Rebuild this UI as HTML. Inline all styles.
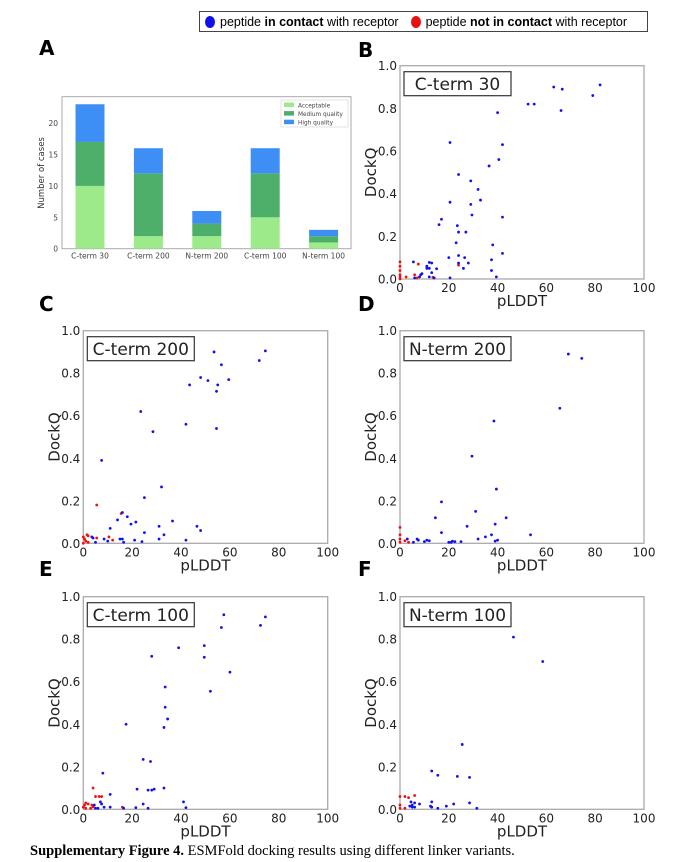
<!DOCTYPE html>
<html><head><meta charset="utf-8">
<style>
body{margin:0;background:#fff;width:688px;height:862px;overflow:hidden;position:relative;font-family:"DejaVu Sans","Liberation Sans",sans-serif}
.lt{position:absolute;font-family:"DejaVu Sans",sans-serif;font-weight:bold;font-size:20px}
#cap{position:absolute;left:30px;top:843px;font-family:"Liberation Serif",serif;font-size:14.5px;white-space:nowrap}
#legend{position:absolute;left:199px;top:11px;width:449px;height:21px;border:1.5px solid #444;font-size:12.5px;font-family:"Liberation Sans",sans-serif;display:flex;align-items:center;box-sizing:border-box;padding-left:5px;white-space:nowrap}
.dot{display:inline-block;width:10px;height:12px;border-radius:50%;margin-right:5px;vertical-align:middle}
</style></head><body>
<div id="legend">
<span><span class="dot" style="background:#1010e8"></span>peptide <b>in contact</b> with receptor</span>
<span style="margin-left:12px"><span class="dot" style="background:#e81010"></span>peptide <b>not in contact</b> with receptor</span>
</div>
<div class="lt" style="left:39px;top:36px">A</div>
<div class="lt" style="left:358px;top:38px">B</div>
<div class="lt" style="left:39px;top:292px">C</div>
<div class="lt" style="left:358px;top:292px">D</div>
<div class="lt" style="left:39px;top:557px">E</div>
<div class="lt" style="left:358px;top:557px">F</div>
<svg id="svg" width="688" height="862" style="position:absolute;left:0;top:0"></svg>
<div id="cap"><b>Supplementary Figure 4.</b> ESMFold docking results using different linker variants.</div>
<script>
const barCats=["C-term 30","C-term 200","N-term 200","C-term 100","N-term 100"];
const accVals=[10,2,2,5,1];
const medVals=[7,10,2,7,1];
const highVals=[6,4,2,4,1];
const barTicks=[0,5,10,15,20];
const scatTicksY=[0,0.2,0.4,0.6,0.8,1.0];
const scatTicksX=[0,20,40,60,80,100];
const bBlue=[[63,0.90],[66.5,0.89],[82,0.91],[79,0.86],[52.5,0.82],[55,0.82],[66,0.79],[40,0.78],[20.5,0.64],[42,0.63],[40.5,0.56],[36.5,0.53],[24,0.49],[29,0.46],[32,0.42],[33,0.37],[20.5,0.36],[29,0.35],[29.5,0.30],[42,0.29],[17,0.28],[16,0.255],[23.5,0.25],[24,0.22],[27,0.22],[23,0.17],[38,0.16],[42,0.12],[20,0.10],[26.5,0.10],[24,0.11],[28,0.075],[24,0.075],[37.5,0.09],[26,0.05],[37.5,0.04],[39.5,0.01],[20.5,0.005],[5.5,0.08],[11,0.06],[12,0.078],[13,0.075],[11,0.05],[12,0.05],[15,0.048],[13,0.03],[9,0.025],[8.5,0.02],[12,0.01],[8,0.01],[6,0.005],[14,0.005]];
const bRed=[[7.5,0.07],[24,0.065],[2.5,0.01],[6,0.02],[7,0.005],[13.5,0.008],[0,0.08],[0,0.06],[0,0.04],[0,0.02],[0,0.01],[0,0]];
const cBlue=[[53.5,0.90],[74.5,0.905],[72,0.86],[56.5,0.84],[48,0.78],[51,0.765],[59.5,0.77],[43.5,0.745],[55,0.745],[54.5,0.715],[54.5,0.54],[42,0.56],[23.5,0.62],[28.5,0.525],[7.5,0.39],[32,0.265],[25,0.215],[16,0.145],[18,0.125],[14,0.11],[21.5,0.10],[19.5,0.09],[36.5,0.105],[11,0.07],[31,0.08],[46.5,0.08],[48,0.06],[25,0.05],[33,0.04],[3.5,0.03],[4,0.025],[8.5,0.02],[15,0.02],[16,0.02],[21,0.015],[31,0.02],[42,0.015],[10,0.01],[16.5,0.005],[24,0.008],[5,0.005]];
const cRed=[[5.5,0.18],[15.5,0.14],[1.5,0.04],[2,0.035],[5.5,0.025],[10.5,0.03],[12,0.015],[0.5,0.02],[1,0.01],[2,0.005],[0,0.0],[0,0.03]];
const dBlue=[[69,0.89],[74.5,0.87],[65.5,0.635],[38.5,0.575],[29.5,0.41],[39.5,0.255],[17,0.195],[31,0.15],[14.5,0.12],[43.5,0.12],[39,0.09],[27.5,0.08],[17,0.05],[53.5,0.04],[37.5,0.04],[35,0.03],[32,0.02],[40,0.015],[39,0.01],[3,0.02],[7,0.02],[7.5,0.015],[11,0.015],[12,0.012],[10,0.008],[5.5,0.005],[20,0.005],[21,0.005],[22.5,0.008],[25,0.008],[21.5,0.01]];
const dRed=[[0,0.075],[0,0.04],[0,0.02],[0,0.005],[2,0.012],[3.5,0.005]];
const eBlue=[[57.5,0.915],[74.5,0.905],[72.5,0.865],[56.5,0.855],[49.5,0.77],[39,0.76],[28,0.72],[49.5,0.715],[60,0.645],[33.5,0.575],[52,0.555],[33.5,0.48],[34.5,0.425],[33,0.385],[17.5,0.40],[24.5,0.235],[27.5,0.225],[8,0.17],[33,0.10],[22,0.095],[28,0.09],[29,0.095],[26.5,0.09],[11,0.07],[41,0.035],[24.5,0.025],[7,0.035],[7.5,0.025],[4.5,0.02],[42,0.008],[21.5,0.008],[26.5,0.005],[8.5,0.01],[11,0.01],[5,0.005],[6,0.005],[16.5,0.005]];
const eRed=[[4,0.10],[5,0.06],[6.5,0.06],[7.5,0.06],[2,0.025],[3.5,0.02],[4,0.012],[1,0.03],[0.5,0.02],[0,0.01],[16,0.01],[3,0.005],[1,0.005]];
const fBlue=[[46.5,0.81],[58.5,0.695],[25.5,0.305],[13,0.18],[15.5,0.16],[23.5,0.155],[28.5,0.15],[28.5,0.03],[13,0.035],[22,0.025],[4.5,0.035],[6,0.03],[8,0.025],[4,0.015],[5,0.01],[12.5,0.015],[13,0.01],[19,0.015],[15.5,0.005],[31.5,0.005],[6,0.01],[5,0.02]];
const fRed=[[0,0.06],[2,0.06],[3.5,0.055],[6,0.065],[0,0.02],[0,0.005],[2,0.005]];

const svg=document.getElementById('svg');
const NS="http://www.w3.org/2000/svg";
function mk(tag,attrs,name,parent){const e=document.createElementNS(NS,tag);for(const k in attrs)e.setAttribute(k,attrs[k]);


(parent||svg).appendChild(e);return e;}
function txt(x,y,s,size,name,extra){const t=mk('text',Object.assign({x:x,y:y,'font-size':size,'font-family':'DejaVu Sans, sans-serif',fill:'#222'},extra||{}),name);t.textContent=s;return t;}

// Bar chart
const bx0=62,bx1=351,by0=248.7,by1=96.7,ppu=6.28;
const yB=v=>by0-v*ppu;
const bc=i=>90+i*58.4;
mk('rect',{x:bx0,y:by1,width:bx1-bx0,height:by0-by1,fill:'none',stroke:'#aaa','stroke-width':1},'bar-chart-frame');
barTicks.forEach(t=>{txt(bx0-4,yB(t)+3,String(t),7.5,'bar-y-tick',{'text-anchor':'end',fill:'#444'});});
barCats.forEach((c,i)=>{
 const w=29,x=bc(i)-w/2;
 let base=0;
 [[accVals,'#9dea8b','acceptable'],[medVals,'#4daf69','medium'],[highVals,'#3d8ff6','high']].forEach(([arr,col,nm])=>{
  const v=arr[i];mk('rect',{x:x,y:yB(base+v),width:w,height:v*ppu,fill:col},'bar-'+nm+'-'+i);base+=v;});
 txt(bc(i),by0+10,c,7.5,'bar-x-label',{'text-anchor':'middle',fill:'#444'});
});
txt(0,0,'Number of cases',8.5,'bar-y-title',{'text-anchor':'middle',transform:'translate(44,173) rotate(-90)',fill:'#333'});
mk('rect',{x:281,y:100,width:67,height:27,fill:'#fff',stroke:'#ddd','stroke-width':0.8},'bar-legend');
[['Acceptable','#9dea8b'],['Medium quality','#4daf69'],['High quality','#3d8ff6']].forEach(([l,c],i)=>{
 mk('rect',{x:284,y:102.5+i*8.6,width:10,height:4.5,fill:c},'bar-legend-swatch');
 txt(298,107.5+i*8.6,l,5.8,'bar-legend-label',{fill:'#444'});
});

// Scatter panels
function scatter(x0,x1,y0,y1,title,blue,red,id){
 const sx=v=>x0+v/100*(x1-x0), sy=v=>y0-v*(y0-y1);
 mk('rect',{x:x0,y:y1,width:x1-x0,height:y0-y1,fill:'none',stroke:'#aaa','stroke-width':1.3},id+'-frame');
 scatTicksY.forEach(t=>txt(x0-3,sy(t)+4.5,t.toFixed(1),12,id+'-y-tick',{'text-anchor':'end'}));
 scatTicksX.forEach(t=>txt(sx(t),y0+13,String(t),12,id+'-x-tick',{'text-anchor':'middle'}));
 txt((x0+x1)/2,y0+27,'pLDDT',15,id+'-x-title',{'text-anchor':'middle'});
 txt(0,0,'DockQ',15,id+'-y-title',{'text-anchor':'middle',transform:`translate(${x0-24},${(y0+y1)/2}) rotate(-90)`});
 mk('rect',{x:x0+4,y:y1+6,width:107,height:24,fill:'#fff',stroke:'#333','stroke-width':1.2},id+'-title-box');
 txt(x0+57.5,y1+24.5,title,17,id+'-title',{'text-anchor':'middle'});
 red.forEach(p=>mk('circle',{cx:sx(p[0]),cy:sy(p[1]),r:1.4,fill:'#ee1111'},id+'-point-red'));
 blue.forEach(p=>mk('circle',{cx:sx(p[0]),cy:sy(p[1]),r:1.4,fill:'#1111ee'},id+'-point-blue'));
}
scatter(400,644,279,65.7,'C-term 30',bBlue,bRed,'panel-b');
scatter(83.3,327.7,543.3,330.7,'C-term 200',cBlue,cRed,'panel-c');
scatter(400,644,543.3,330.7,'N-term 200',dBlue,dRed,'panel-d');
scatter(83.3,327.7,809.3,596.7,'C-term 100',eBlue,eRed,'panel-e');
scatter(400,644,809.3,596.7,'N-term 100',fBlue,fRed,'panel-f');
</script>
</body></html>
